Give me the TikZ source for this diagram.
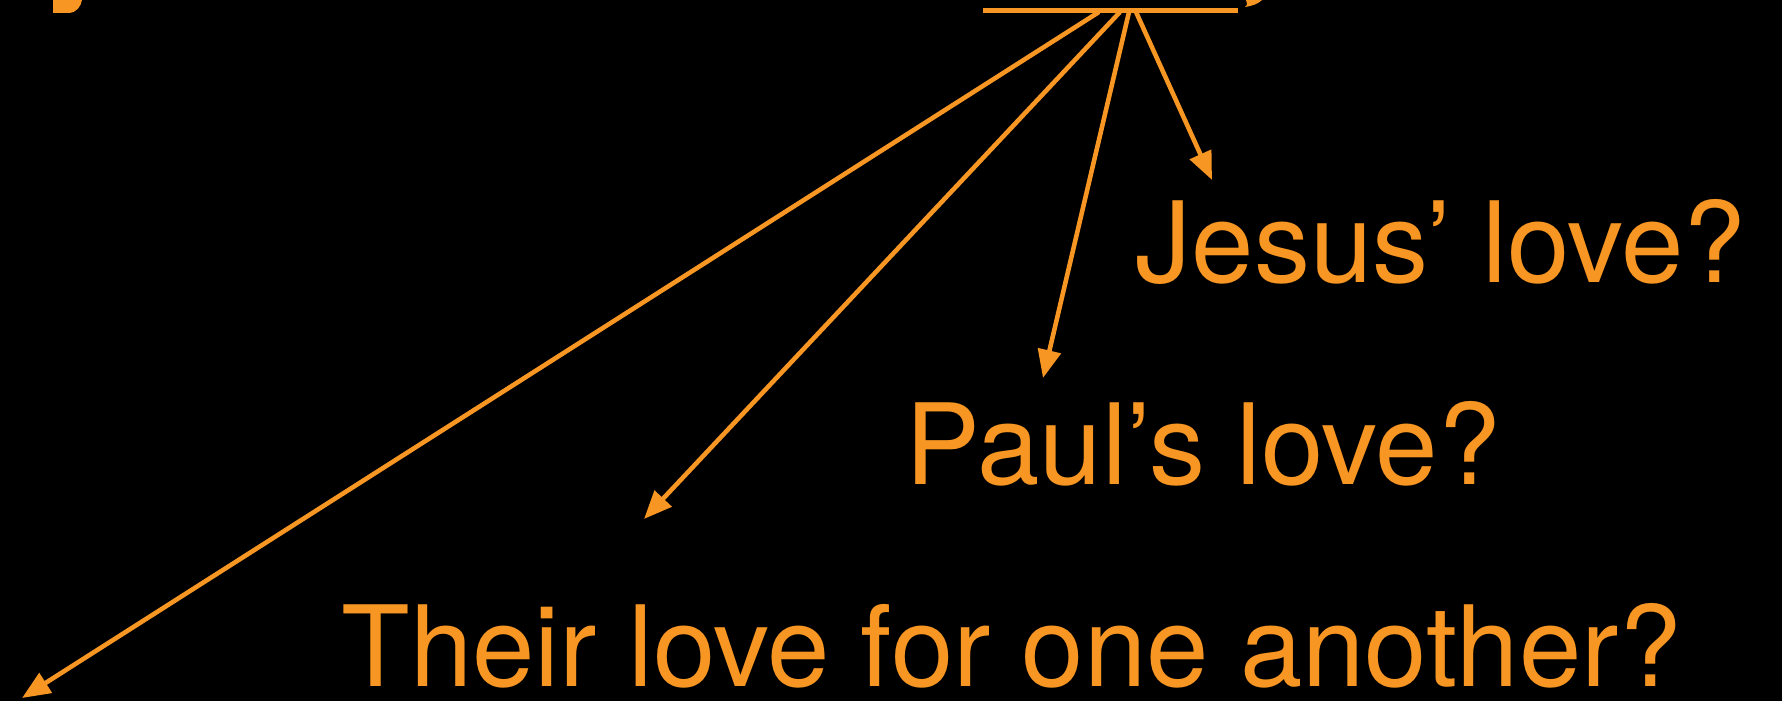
\documentclass[tikz,border=0pt]{standalone}
\usepackage{fontspec}
\setmainfont{TeX Gyre Heros}
\usepackage{xcolor}
\usetikzlibrary{arrows.meta}
\definecolor{slideorange}{RGB}{247,150,34}

\begin{document}
\begin{tikzpicture}[x=0.01cm, y=-0.01cm, font=\fontsize{31.9}{38}\selectfont,
lbl/.style={text=slideorange,anchor=base west,inner sep=0pt,text depth=0pt},
arr/.style={-{Triangle[length=8pt,width=6.5pt]},draw=slideorange,line width=1.3pt}]
\fill[black] (0,0) rectangle (1782,701);
\useasboundingbox (0,0) rectangle (1782,701);
% cut-off glyph pieces at the top edge
\fill[slideorange] (53,0) -- (53,13) -- (68,13) .. controls (77,13) and (81,6) .. (82,0) -- cycle;
\fill[slideorange] (1246,0) -- (1262,0) .. controls (1258,4) and (1252,6) .. (1245,7) .. controls (1248,5) and (1247,2) .. (1246,0) -- cycle;
% underline and fan
\coordinate (lineL) at (983,10.5);
\coordinate (lineR) at (1238,10.5);
\draw[slideorange,line width=1.45pt] (lineL) -- (lineR);
\coordinate (f1) at (1099,12); \coordinate (f2) at (1120,12);
\coordinate (f3) at (1129,12); \coordinate (f4) at (1136,12);
\coordinate (tipA) at (22,698); \coordinate (tipB) at (644,519);
\coordinate (tipC) at (1043,378); \coordinate (tipD) at (1212,180);
\node[lbl] (jesus) at (1135,283) {Jesus’ love?};
\node[lbl] (paul) at (905,485) {Paul’s love?};
\node[lbl] (their) at (341,687) {Their love for one another?};
\draw[arr] (f1)--(tipA); \draw[arr] (f2)--(tipB); \draw[arr] (f3)--(tipC); \draw[arr] (f4)--(tipD);
\end{tikzpicture}
\end{document}
